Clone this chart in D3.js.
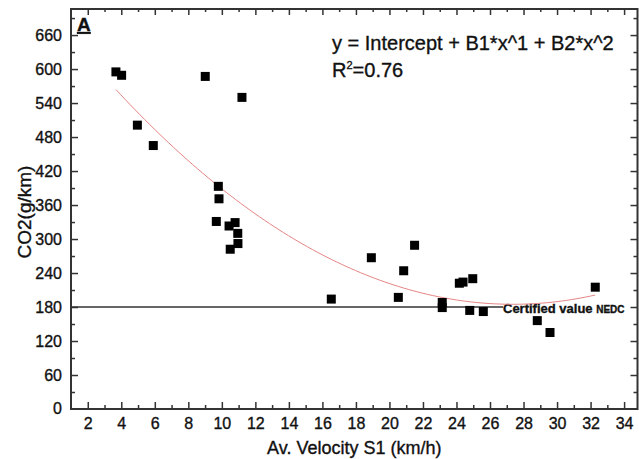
<!DOCTYPE html>
<html>
<head>
<meta charset="utf-8">
<script src="https://cdn.jsdelivr.net/npm/d3@7"></script>
<style>
  body { margin: 0; background: #fff; }
  svg text { font-family: "Liberation Sans", Arial, sans-serif; fill: #111; stroke: #111; stroke-width: 0.35px; }
</style>
</head>
<body>
<script>
const WIDTH = 639;
const HEIGHT = 459;

const velocity = [3.68, 4.02, 4.96, 5.91, 9.01, 11.2, 9.79, 9.83, 9.67, 10.43, 10.79, 10.95, 10.96, 10.5,
  16.53, 18.92, 20.85, 21.5, 20.53, 23.15, 23.15, 24.17, 24.39, 24.97, 24.79, 25.6, 28.82, 29.58, 32.28];
const co2 = [595, 589, 501, 465, 587, 550, 393, 371, 331, 323, 329, 310, 292, 282,
  194, 267, 244, 289, 197, 188, 179, 222, 224, 230, 174, 172, 156, 135, 215];
const xTicks = [2, 4, 6, 8, 10, 12, 14, 16, 18, 20, 22, 24, 26, 28, 30, 32, 34];
const yTicks = [0, 60, 120, 180, 240, 300, 360, 420, 480, 540, 600, 660];
const certified = 180;

const PLOT_L = 71, PLOT_R = 637.5, PLOT_T = 9, PLOT_B = 409;

const svg = d3.select("body").append("svg")
  .attr("width", WIDTH)
  .attr("height", HEIGHT);

const x = d3.scaleLinear().domain([1, 34.8]).range([PLOT_L, PLOT_R]);
const y = d3.scaleLinear().domain([0, 706]).range([PLOT_B, PLOT_T]);

// minor ticks halfway between the majors
const xMinor = d3.range(3, 35, 2);
const yMinor = d3.range(30, 700, 60);

const axisColor = "#333";
const drawAxis = (axis, tx, ty, values, size, labels) => {
  const g = svg.append("g")
    .attr("transform", "translate(" + tx + "," + ty + ")")
    .call(axis.tickValues(values).tickSize(size).tickPadding(9)
      .tickFormat(labels ? d3.format("d") : ""));
  g.select(".domain").remove();
  g.selectAll("line").attr("stroke", axisColor).attr("stroke-width", 1.5);
  g.selectAll("text").style("font-size", "16px").attr("fill", "#111");
  return g;
};

// bottom + left with labels, top + right only ticks (all pointing inward)
drawAxis(d3.axisBottom(x), 0, PLOT_B, xTicks, -7, true);
drawAxis(d3.axisBottom(x), 0, PLOT_B, xMinor, -4, false);
drawAxis(d3.axisTop(x), 0, PLOT_T, xTicks, -6, false);
drawAxis(d3.axisTop(x), 0, PLOT_T, xMinor, -3, false);
drawAxis(d3.axisLeft(y), PLOT_L, 0, yTicks.slice(1), -7, true);
drawAxis(d3.axisLeft(y), PLOT_L, 0, yMinor, -4, false);
drawAxis(d3.axisRight(y), PLOT_R, 0, yTicks.slice(1), -7, false);
drawAxis(d3.axisRight(y), PLOT_R, 0, yMinor, -4, false);

// "0" label on the y axis
svg.append("text")
  .attr("x", PLOT_L - 9).attr("y", y(0)).attr("dy", "0.32em")
  .attr("text-anchor", "end").style("font-size", "16px").text("0");

// frame
svg.append("rect")
  .attr("x", PLOT_L).attr("y", PLOT_T)
  .attr("width", PLOT_R - PLOT_L).attr("height", PLOT_B - PLOT_T)
  .attr("fill", "none").attr("stroke", axisColor).attr("stroke-width", 2);

// certified value line
svg.append("line")
  .attr("x1", PLOT_L).attr("x2", 503)
  .attr("y1", y(certified)).attr("y2", y(certified))
  .attr("stroke", "#333").attr("stroke-width", 1.5);

const cert = svg.append("text")
  .attr("x", 503).attr("y", y(certified) + 6)
  .style("font-weight", "bold").style("font-size", "13px");
cert.append("tspan").text("Certified value ");
cert.append("tspan").style("font-size", "10px").text("NEDC");

// quadratic least-squares fit through the points
const fitQuadratic = (xs, ys) => {
  const s = [0, 0, 0, 0, 0], t = [0, 0, 0];
  xs.forEach((xi, i) => {
    for (let k = 0; k < 5; k++) s[k] += Math.pow(xi, k);
    for (let k = 0; k < 3; k++) t[k] += ys[i] * Math.pow(xi, k);
  });
  const m = [[s[0], s[1], s[2], t[0]], [s[1], s[2], s[3], t[1]], [s[2], s[3], s[4], t[2]]];
  for (let i = 0; i < 3; i++) {
    for (let j = i + 1; j < 3; j++) {
      const f = m[j][i] / m[i][i];
      for (let k = i; k < 4; k++) m[j][k] -= f * m[i][k];
    }
  }
  const c = [0, 0, 0];
  for (let i = 2; i >= 0; i--) {
    let v = m[i][3];
    for (let k = i + 1; k < 3; k++) v -= m[i][k] * c[k];
    c[i] = v / m[i][i];
  }
  return c;
};
const coef = fitQuadratic(velocity, co2);
const xMin = d3.min(velocity), xMax = d3.max(velocity);
const fitPts = d3.range(0, 101).map(i => {
  const v = xMin + (xMax - xMin) * i / 100;
  return [v, coef[0] + coef[1] * v + coef[2] * v * v];
});
svg.append("path")
  .datum(fitPts)
  .attr("d", d3.line().x(d => x(d[0])).y(d => y(d[1])))
  .attr("fill", "none")
  .attr("stroke", "#e58585")
  .attr("stroke-width", 1);

// the points
svg.selectAll("rect.pt")
  .data(velocity)
  .enter().append("rect")
  .attr("class", "pt")
  .attr("x", d => x(d) - 4.5)
  .attr("y", (d, i) => y(co2[i]) - 4.5)
  .attr("width", 9).attr("height", 9)
  .attr("fill", "#000");

// panel letter
svg.append("text")
  .attr("x", 77).attr("y", 31)
  .style("font-size", "19px").style("font-weight", "bold")
  .style("text-decoration", "underline")
  .text("A");

// fit annotation
svg.append("text")
  .attr("x", 332).attr("y", 50)
  .style("font-size", "20px")
  .text("y = Intercept + B1*x^1 + B2*x^2");
const r2 = svg.append("text")
  .attr("x", 332).attr("y", 77)
  .style("font-size", "20px");
r2.append("tspan").text("R");
r2.append("tspan").attr("dy", -8).style("font-size", "11px").text("2");
r2.append("tspan").attr("dy", 8).text("=0.76");

// axis titles
svg.append("text")
  .attr("x", (PLOT_L + PLOT_R) / 2).attr("y", 454)
  .attr("text-anchor", "middle")
  .style("font-size", "18px")
  .text("Av. Velocity S1 (km/h)");

svg.append("text")
  .attr("transform", "translate(31,212) rotate(-90)")
  .attr("text-anchor", "middle")
  .style("font-size", "19px")
  .text("CO2(g/km)");
</script>
</body>
</html>
